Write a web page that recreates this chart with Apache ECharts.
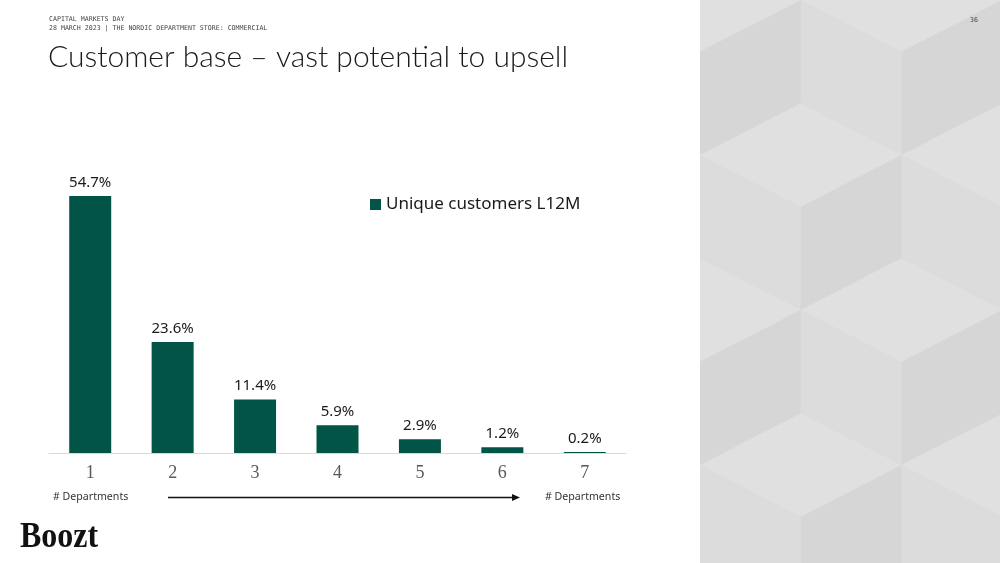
<!DOCTYPE html>
<html lang="en">
<head>
    <meta charset="utf-8" />
    <title>Customer base</title>
    <script src="https://cdn.jsdelivr.net/npm/echarts@6/dist/echarts.min.js"></script>
    <style>
        html, body { margin: 0; padding: 0; background: #ffffff; }
        #page { position: relative; width: 1000px; height: 563px; overflow: hidden; }
        #cubes { position: absolute; left: 700px; top: 0; width: 300px; height: 563px; }
        #chart { position: absolute; left: 0; top: 0; width: 1000px; height: 563px; }
    </style>
</head>
<body>
<div id="page">
    <svg id="cubes" width="300" height="563" xmlns="http://www.w3.org/2000/svg"></svg>
    <div id="chart"></div>
</div>
<script>
// data
var departments = ['1', '2', '3', '4', '5', '6', '7'];
var uniqueCustomers = [54.7, 23.6, 11.4, 5.9, 2.9, 1.2, 0.2];
var seriesName = 'Unique customers L12M';

var barColor = '#025546';

// background cube pattern on the right panel
(function () {
    var svg = document.getElementById('cubes');
    var w = 100.8, h = 51.7;
    var faces = [];
    function cube(cx, cy) {
        faces.push(['#e0e0e0', [[cx, cy], [cx - w, cy - h], [cx, cy - 2 * h], [cx + w, cy - h]]]);
        faces.push(['#dcdcdc', [[cx, cy], [cx - w, cy - h], [cx - w, cy + h], [cx, cy + 2 * h]]]);
        faces.push(['#d6d6d6', [[cx, cy], [cx + w, cy - h], [cx + w, cy + h], [cx, cy + 2 * h]]]);
    }
    for (var j = -1; j < 3; j++) {
        for (var i = -1; i < 3; i++) {
            cube(2 * w * i, h + 310 * j);
            cube(w + 2 * w * i, 4 * h + 310 * j);
        }
    }
    var html = '<rect x="0" y="0" width="300" height="563" fill="#dcdcdc"/>';
    faces.forEach(function (f) {
        html += '<polygon fill="' + f[0] + '" points="' +
            f[1].map(function (p) { return p[0].toFixed(1) + ',' + p[1].toFixed(1); }).join(' ') + '"/>';
    });
    svg.innerHTML = html;
})();

var chart = echarts.init(document.getElementById('chart'), null, { renderer: 'canvas' });

var option = {
    backgroundColor: 'transparent',
    animation: false,
    grid: { left: 49, right: 374, top: 171, bottom: 110 },
    legend: {
        data: [seriesName],
        left: 365,
        top: 191,
        icon: 'rect',
        itemWidth: 11,
        itemHeight: 11,
        itemGap: 5,
        textStyle: { fontFamily: 'Noto Sans', fontSize: 17, color: '#1a1a1a' }
    },
    xAxis: {
        type: 'category',
        data: departments,
        axisLine: { lineStyle: { color: '#d9d9d9', width: 1 } },
        axisTick: { show: false },
        axisLabel: {
            margin: 11,
            fontFamily: 'Liberation Serif',
            fontSize: 18,
            color: '#595959'
        }
    },
    yAxis: {
        type: 'value',
        min: 0,
        max: 60,
        show: false,
        splitLine: { show: false }
    },
    series: [{
        name: seriesName,
        type: 'bar',
        data: uniqueCustomers,
        barWidth: 42,
        itemStyle: { color: barColor },
        label: {
            show: true,
            position: 'top',
            distance: 6,
            fontFamily: 'Noto Sans',
            fontSize: 15,
            color: '#1a1a1a',
            formatter: function (p) { return p.value.toFixed(1) + '%'; }
        }
    }],
    graphic: [
        { type: 'text', left: 49, top: 16, style: { text: 'CAPITAL MARKETS DAY', fontFamily: 'DejaVu Sans Mono', fontSize: 6.6, fill: '#444' } },
        { type: 'text', left: 49, top: 25, style: { text: '28 MARCH 2023 | THE NORDIC DEPARTMENT STORE: COMMERCIAL', fontFamily: 'DejaVu Sans Mono', fontSize: 6.6, fill: '#444' } },
        { type: 'text', left: 48, top: 42, style: { text: 'Customer base \u2013 vast poten\u200Ctial to upsell', fontFamily: 'Lato', fontWeight: 300, fontSize: 30, fill: '#1a1a1a' } },
        { type: 'text', right: 22, top: 17, style: { text: '36', fontFamily: 'DejaVu Sans Mono', fontSize: 6.6, fill: '#444' } },
        { type: 'text', left: 53, top: 491, style: { text: '# Departments', fontFamily: 'Noto Sans', fontSize: 10.6, fill: '#333' } },
        { type: 'text', left: 545, top: 491, style: { text: '# Departments', fontFamily: 'Noto Sans', fontSize: 10.6, fill: '#333' } },
        { type: 'line', shape: { x1: 168, y1: 497.5, x2: 513, y2: 497.5 }, style: { stroke: '#111', lineWidth: 1.5 } },
        { type: 'polygon', shape: { points: [[512, 494], [520, 497.5], [512, 501]] }, style: { fill: '#111' } },
        { type: 'text', left: 20, top: 520, scaleY: 1.1, style: { text: 'Boozt', fontFamily: 'Liberation Serif', fontWeight: 'bold', fontSize: 32, fill: '#111' } }
    ]
};

chart.setOption(option);
</script>
</body>
</html>
